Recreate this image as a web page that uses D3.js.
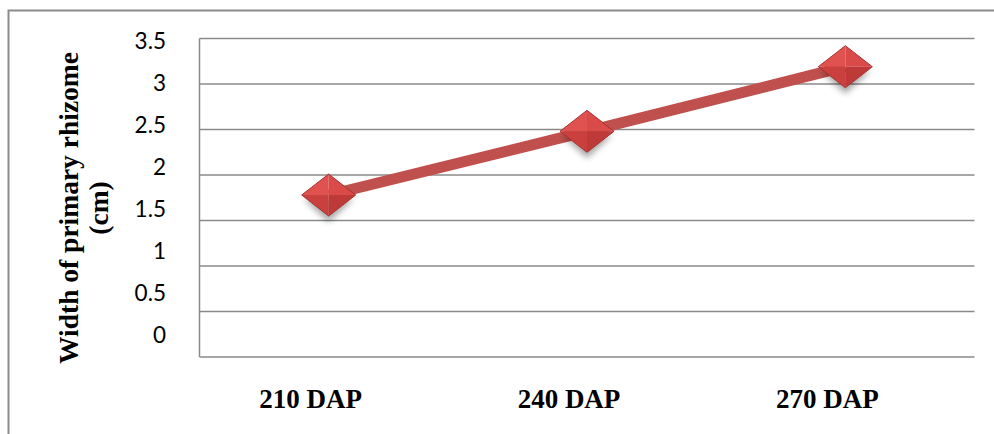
<!DOCTYPE html>
<html>
<head>
<meta charset="utf-8">
<script src="https://cdn.jsdelivr.net/npm/d3@7"></script>
<style>
html,body{margin:0;padding:0;background:#fff;}
svg{display:block;}
</style>
</head>
<body>
<svg id="chart" width="994" height="434"></svg>
<script>
const categories = ["210 DAP", "240 DAP", "270 DAP"];
const values = [1.78, 2.48, 3.19];
const yTicks = [0, 0.5, 1, 1.5, 2, 2.5, 3, 3.5];
const yTitleLines = ["Width of primary rhizome", "(cm)"];

const W = 994, H = 434;
const m = {left: 199.5, top: 38.5, right: 974.5, bottom: 357};
const svg = d3.select("#chart");

// outer chart border
svg.append("path")
  .attr("d", `M8.5,${H} L8.5,10.5 L${W},10.5`)
  .attr("fill", "none").attr("stroke", "#8c8c8c").attr("stroke-width", 2);

const x = d3.scaleBand().domain(categories).range([m.left, m.right]);
const y = d3.scaleLinear().domain([0, 3.5]).range([m.bottom, m.top]);
// tick labels sit on their own (slightly compressed) scale, as in the reference
const yLab = d3.scaleLinear().domain([0, 3.5]).range([334.5, 40.5]);
const xLabShift = -18;

// gridlines
svg.append("g").selectAll("line").data(yTicks).join("line")
  .attr("x1", m.left).attr("x2", m.right)
  .attr("y1", d => y(d)).attr("y2", d => y(d))
  .attr("stroke", "#8a8a8a").attr("stroke-width", 1.5);
// left axis line
svg.append("line").attr("x1", m.left).attr("x2", m.left)
  .attr("y1", m.top).attr("y2", m.bottom)
  .attr("stroke", "#8a8a8a").attr("stroke-width", 1.5);

// y tick labels
svg.append("g").selectAll("text").data(yTicks).join("text")
  .attr("x", 166).attr("y", d => yLab(d) + 8)
  .attr("text-anchor", "end")
  .attr("font-family", "Lato, 'Open Sans', sans-serif")
  .attr("font-size", 22.5).attr("fill", "#000")
  .text(d => d3.format("")(d));

// x labels
svg.append("g").selectAll("text").data(categories).join("text")
  .attr("x", d => x(d) + x.bandwidth() / 2 + xLabShift).attr("y", 408)
  .attr("text-anchor", "middle")
  .attr("font-family", "'Liberation Serif', 'Times New Roman', serif")
  .attr("font-weight", "bold").attr("font-size", 27).attr("fill", "#000")
  .text(d => d);

// y title
const yt = svg.append("text")
  .attr("transform", "translate(0,208) rotate(-90)")
  .attr("text-anchor", "middle")
  .attr("font-family", "'Liberation Serif', 'Times New Roman', serif")
  .attr("font-weight", "bold").attr("font-size", 27.5).attr("fill", "#000");
yt.selectAll("tspan").data(yTitleLines).join("tspan")
  .attr("x", 0).attr("y", (d, i) => 78 + i * 30)
  .text(d => d);

// defs for marker shading
const defs = svg.append("defs");
const sh = defs.append("filter").attr("id", "shadow").attr("x", "-50%").attr("y", "-50%").attr("width", "200%").attr("height", "200%");
sh.append("feGaussianBlur").attr("stdDeviation", 3);

const pts = categories.map((c, i) => [x(c) + x.bandwidth() / 2, y(values[i])]);

// line
svg.append("path")
  .attr("d", d3.line()(pts))
  .attr("fill", "none").attr("stroke", "#c0504d").attr("stroke-width", 11)
  .attr("stroke-linejoin", "round");

// markers
const hw = 27, hh = 21;
const mk = svg.append("g").selectAll("g").data(pts).join("g")
  .attr("transform", d => `translate(${d[0]},${d[1]})`);
mk.append("path")
  .attr("d", `M${-hw+2},4 L0,${hh+6} L${hw-2},4 Z`)
  .attr("fill", "rgba(0,0,0,0.35)").attr("filter", "url(#shadow)");
// facets
mk.append("path").attr("d", `M${-hw},0 L0,${-hh} L0,0 Z`).attr("fill", "#e0524f");
mk.append("path").attr("d", `M0,${-hh} L${hw},0 L0,0 Z`).attr("fill", "#d94a48");
mk.append("path").attr("d", `M${-hw},0 L0,${hh} L0,0 Z`).attr("fill", "#c9403e");
mk.append("path").attr("d", `M0,${hh} L${hw},0 L0,0 Z`).attr("fill", "#bd3a38");
mk.append("path")
  .attr("d", `M${-hw},0 L0,${-hh} L${hw},0 L0,${hh} Z`)
  .attr("fill", "none").attr("stroke", "#a83230").attr("stroke-width", 1);
</script>
</body>
</html>
